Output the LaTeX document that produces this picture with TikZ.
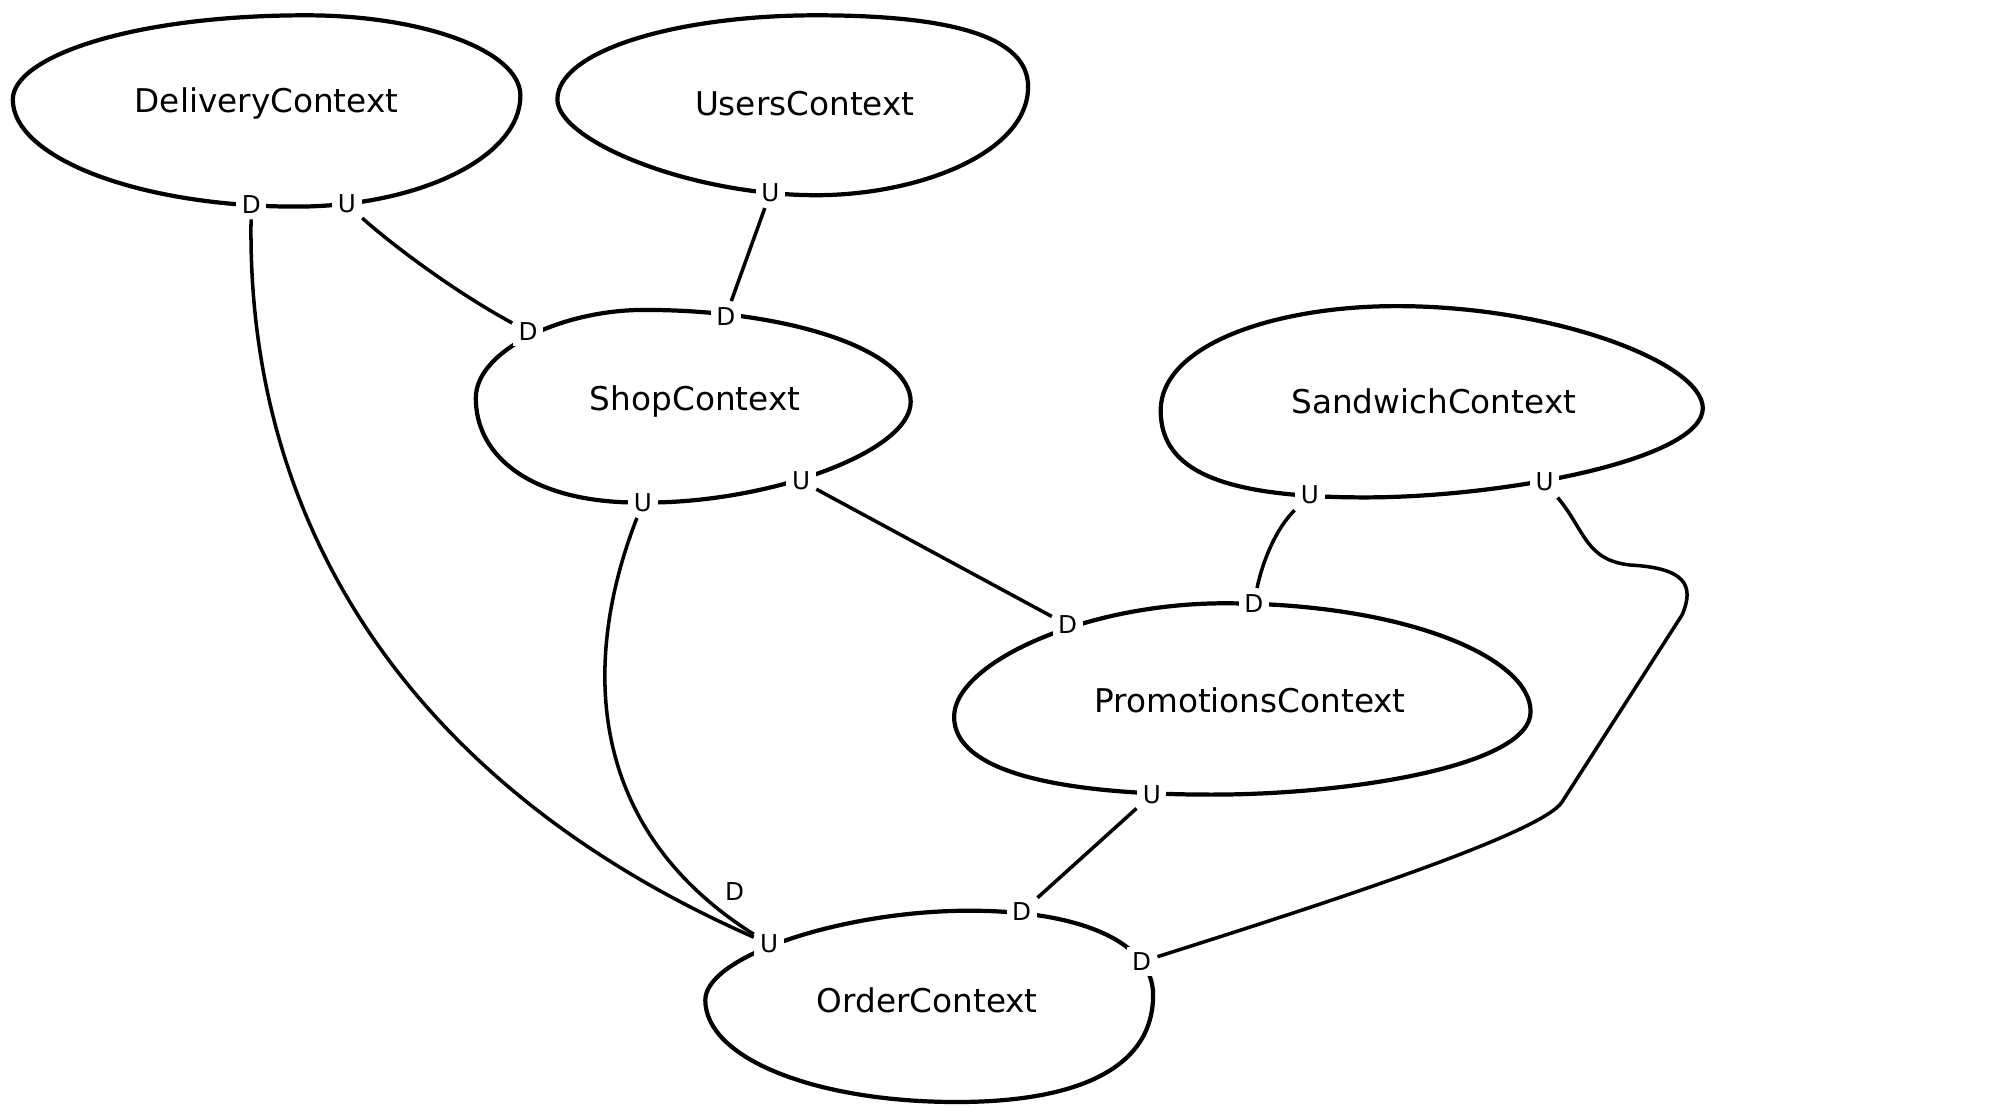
\documentclass[tikz,border=0pt]{standalone}
\usepackage{fontspec}
\setmainfont{DejaVu Sans}
\usepackage{tikz}
\usetikzlibrary{positioning, calc}

\begin{document}
\begin{tikzpicture}[
    ctx/.style={font=\fontsize{9.3}{11}\selectfont, inner sep=0pt},
    portlbl/.style={font=\fontsize{7}{8}\selectfont, fill=white, inner sep=1.6pt},
    blob/.style={line width=1.2pt},
    link/.style={line width=1pt}
]
\useasboundingbox (0,0) rectangle (20,-11.11);

% Context outlines
\draw[blob] (0.128,-0.995) .. controls (0.128,-0.574) and (1.301,-0.153) .. (3.061,-0.153)
    .. controls (4.235,-0.153) and (5.204,-0.510) .. (5.204,-0.957)
    .. controls (5.204,-1.569) and (4.196,-2.066) .. (2.959,-2.066)
    .. controls (1.403,-2.066) and (0.128,-1.582) .. cycle;
\draw[blob] (5.574,-0.995) .. controls (5.574,-0.510) and (6.760,-0.153) .. (8.163,-0.153)
    .. controls (9.566,-0.153) and (10.281,-0.383) .. (10.281,-0.867)
    .. controls (10.281,-1.531) and (9.184,-1.952) .. (8.163,-1.952)
    .. controls (6.888,-1.952) and (5.574,-1.403) .. cycle;
\draw[blob] (4.758,-3.980) .. controls (4.758,-3.508) and (5.612,-3.099) .. (6.441,-3.099)
    .. controls (7.908,-3.099) and (9.107,-3.508) .. (9.107,-4.018)
    .. controls (9.107,-4.528) and (7.653,-5.038) .. (6.429,-5.025)
    .. controls (5.357,-5.038) and (4.758,-4.592) .. cycle;
\draw[blob] (11.607,-4.107) .. controls (11.607,-3.444) and (12.755,-3.061) .. (13.967,-3.061)
    .. controls (15.561,-3.061) and (17.028,-3.635) .. (17.028,-4.082)
    .. controls (17.028,-4.592) and (15.051,-4.974) .. (13.648,-4.974)
    .. controls (12.245,-4.974) and (11.607,-4.719) .. cycle;
\draw[blob] (9.541,-7.168) .. controls (9.541,-6.633) and (10.842,-6.033) .. (12.245,-6.033)
    .. controls (14.031,-6.033) and (15.306,-6.569) .. (15.306,-7.117)
    .. controls (15.306,-7.653) and (13.520,-7.946) .. (12.117,-7.946)
    .. controls (10.587,-7.946) and (9.541,-7.717) .. cycle;
\draw[blob] (7.053,-10.000) .. controls (7.053,-9.566) and (8.418,-9.107) .. (9.694,-9.107)
    .. controls (10.842,-9.107) and (11.531,-9.439) .. (11.531,-9.949)
    .. controls (11.531,-10.714) and (10.714,-11.020) .. (9.566,-11.020)
    .. controls (8.163,-11.020) and (7.053,-10.587) .. cycle;

% Context names
\node[ctx] (del)   at (2.666, -1.033) {DeliveryContext};
\node[ctx] (usr)   at (8.048, -1.033) {UsersContext};
\node[ctx] (shop)  at (6.951, -4.018) {ShopContext};
\node[ctx] (sand)  at (14.337, -4.018) {SandwichContext};
\node[ctx] (promo) at (12.500, -7.002) {PromotionsContext};
\node[ctx] (ord)   at (9.273, -10.000) {OrderContext};

% Upstream / downstream ports
\node[portlbl] (delD)  at (2.513, -2.041) {D};
\node[portlbl] (delU)  at (3.469, -2.041) {U};
\node[portlbl] (usrU)  at (7.704, -1.926) {U};
\node[portlbl] (shpD1) at (5.281, -3.316) {D};
\node[portlbl] (shpD2) at (7.258, -3.163) {D};
\node[portlbl] (shpU1) at (6.429, -5.025) {U};
\node[portlbl] (shpU2) at (8.010, -4.809) {U};
\node[portlbl] (sndU1) at (13.099, -4.949) {U};
\node[portlbl] (sndU2) at (15.446, -4.821) {U};
\node[portlbl] (prmD1) at (10.676, -6.250) {D};
\node[portlbl] (prmD2) at (12.538, -6.033) {D};
\node[portlbl] (prmU)  at (11.518, -7.946) {U};
\node[portlbl] (ordU)  at (7.691, -9.439) {U};
\node[portlbl] (ordD1) at (10.217, -9.120) {D};
\node[portlbl] (ordD2) at (11.416, -9.617) {D};
\node[portlbl, fill=none] (ordD0) at (7.347, -8.916) {D};

% Relations
\draw[link] (delD) .. controls (2.462,-5.357) and (4.209,-7.908) .. (ordU);
\draw[link] (delU) .. controls (3.890,-2.423) and (4.528,-2.908) .. (shpD1);
\draw[link] (usrU) -- (shpD2);
\draw[link] (shpU1) .. controls (5.804,-6.633) and (5.867,-8.291) .. (ordU);
\draw[link] (shpU2) -- (prmD1);
\draw[link] (sndU1) .. controls (12.755,-5.293) and (12.627,-5.612) .. (prmD2);
\draw[link] (sndU2) .. controls (15.85,-5.30) and (15.85,-5.60) .. (16.30,-5.65)
    .. controls (16.85,-5.68) and (16.95,-5.85) .. (16.82,-6.15)
    -- (15.62,-8.02)
    .. controls (15.42,-8.33) and (13.30,-9.02) .. (ordD2);
\draw[link] (prmU) -- (ordD1);

\end{tikzpicture}
\end{document}
